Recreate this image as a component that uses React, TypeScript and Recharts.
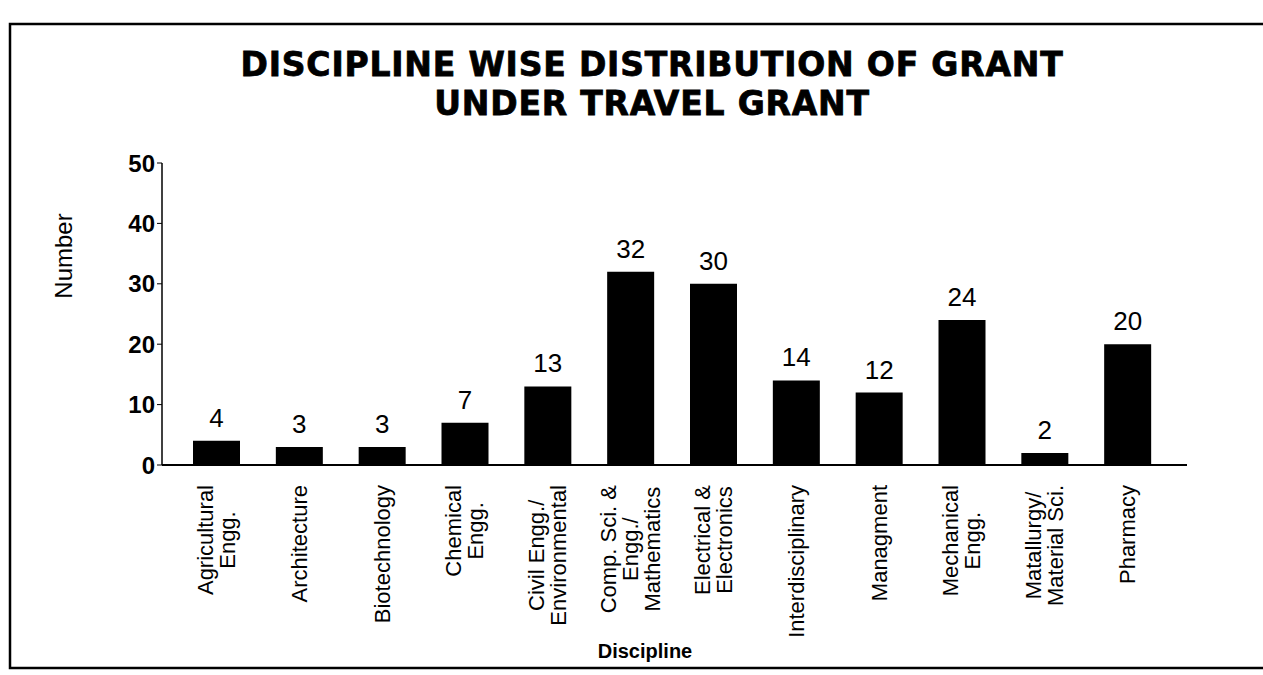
import React from "react";
import { BarChart, Bar, XAxis, YAxis, LabelList } from "recharts";

const disciplines = [
  "Agricultural\nEngg.",
  "Architecture",
  "Biotechnology",
  "Chemical\nEngg.",
  "Civil Engg./\nEnvironmental",
  "Comp. Sci. &\nEngg./\nMathematics",
  "Electrical &\nElectronics",
  "Interdisciplinary",
  "Managment",
  "Mechanical\nEngg.",
  "Matallurgy/\nMaterial Sci.",
  "Pharmacy",
];
const grants = [4, 3, 3, 7, 13, 32, 30, 14, 12, 24, 2, 20];
const yTicks = [0, 10, 20, 30, 40, 50];

const data = disciplines.map((name, i) => ({ name, value: grants[i] }));

const FONT = '"Liberation Sans", Arial, sans-serif';
const TITLE_FONT = '"DejaVu Sans", sans-serif';
const TICK_SIZE = 22;
const LINE_PITCH = 22;

// measure label widths so multi-line rotated labels centre on the longest line
const ctx = typeof document !== "undefined" ? document.createElement("canvas").getContext("2d") : null;
const textWidth = (s: string) => {
  if (!ctx) return s.length * TICK_SIZE * 0.5;
  ctx.font = `${TICK_SIZE}px ${FONT}`;
  return ctx.measureText(s).width;
};

const CategoryTick = ({ x, y, payload }: any) => {
  const lines: string[] = String(payload.value).split("\n");
  const maxW = Math.max(...lines.map(textWidth));
  const cy = y + 12 + maxW / 2;
  const x0 = x - ((lines.length - 1) * LINE_PITCH) / 2;
  return (
    <g>
      {lines.map((l, i) => (
        <text
          key={i}
          x={0}
          y={0}
          transform={`translate(${x0 + i * LINE_PITCH},${cy}) rotate(-90)`}
          textAnchor="middle"
          dominantBaseline="central"
          fontFamily={FONT}
          fontSize={TICK_SIZE}
          fill="#000"
        >
          {l}
        </text>
      ))}
    </g>
  );
};

const titleStyle = {
  fontFamily: TITLE_FONT,
  fontWeight: "bold" as const,
  fontSize: 33,
  letterSpacing: 0.8,
};

export default function App() {
  return (
    <div style={{ position: "absolute", left: 0, top: 0, width: 1263, height: 675, background: "#fff" }}>
      <BarChart
        width={1263}
        height={675}
        data={data}
        margin={{ top: 163, right: 76, bottom: 10, left: 102 }}
      >
        <rect x={10} y={24} width={1270} height={644} fill="none" stroke="#000" strokeWidth={2.5} />
        <text x={652} y={76} textAnchor="middle" style={titleStyle} fill="#000" stroke="#000" strokeWidth={0.8}>
          DISCIPLINE WISE DISTRIBUTION OF GRANT
        </text>
        <text x={652} y={115} textAnchor="middle" style={titleStyle} fill="#000" stroke="#000" strokeWidth={0.8}>
          UNDER TRAVEL GRANT
        </text>
        <text
          transform="translate(63,256) rotate(-90)"
          textAnchor="middle"
          dominantBaseline="central"
          fontFamily={FONT}
          fontSize={24}
          fill="#000"
        >
          Number
        </text>
        <text x={645} y={658} textAnchor="middle" fontFamily={FONT} fontWeight="bold" fontSize={20} fill="#000">
          Discipline
        </text>
        <XAxis
          dataKey="name"
          interval={0}
          tickLine={false}
          axisLine={{ stroke: "#000", strokeWidth: 2 }}
          padding={{ left: 13, right: 18 }}
          tick={<CategoryTick />}
          height={200}
        />
        <YAxis
          domain={[0, 50]}
          ticks={yTicks}
          width={60}
          tickSize={5}
          tickLine={{ stroke: "#000" }}
          axisLine={{ stroke: "#000", strokeWidth: 1.5 }}
          tick={{ fill: "#000", fontSize: 24, fontWeight: "bold", fontFamily: FONT }}
        />
        <Bar dataKey="value" fill="#000" barSize={47} isAnimationActive={false}>
          <LabelList
            dataKey="value"
            position="top"
            offset={14}
            fill="#000"
            fontSize={26}
            fontFamily={FONT}
          />
        </Bar>
      </BarChart>
    </div>
  );
}
